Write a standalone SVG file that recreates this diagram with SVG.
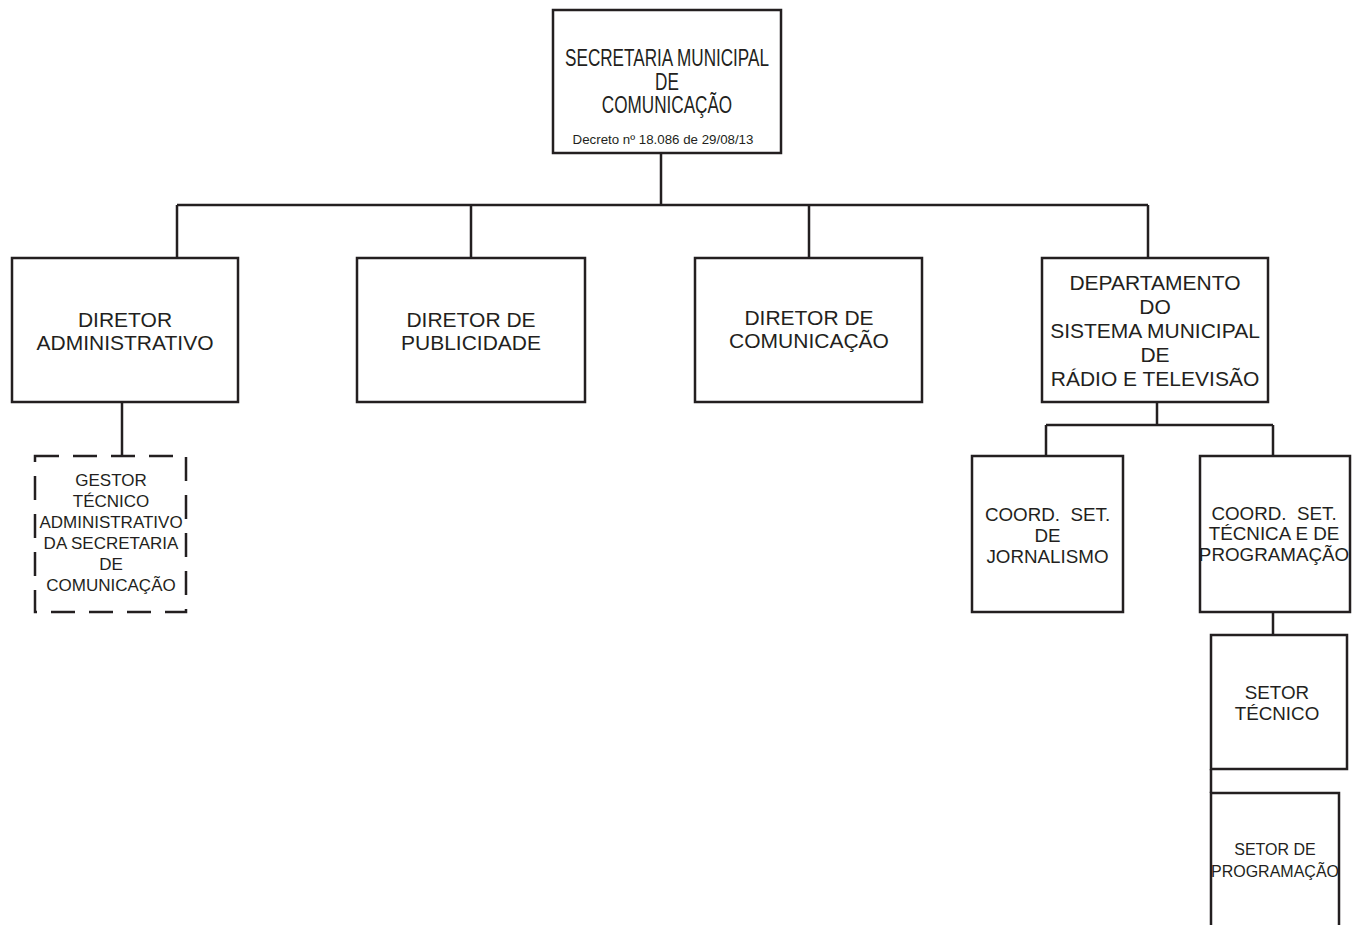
<svg xmlns="http://www.w3.org/2000/svg" width="1352" height="925" viewBox="0 0 1352 925">
<style>
.box{fill:#fff;stroke:#231f20;stroke-width:2.5}
.dash{fill:#fff;stroke:#231f20;stroke-width:2.5;stroke-dasharray:24 14}
.ln{fill:none;stroke:#231f20;stroke-width:2.5}
text{font-family:"Liberation Sans",Arial,sans-serif;fill:#231f20;text-anchor:middle}
.t21{font-size:21px}
.t19{font-size:18.8px}
.t17{font-size:17px}
</style>
<rect width="1352" height="925" fill="#fff"/>
<g id="connectors">
<path class="ln" d="M661 153V205M177 205H1148M177 205V258M471 205V258M809 205V258M1148 205V258"/>
<path class="ln" d="M122 402V456"/>
<path class="ln" d="M1157 402V425M1046 425H1273M1046 425V456M1273 425V456"/>
<path class="ln" d="M1273 612V635M1211 769V793"/>
</g>
<g id="secretaria">
<rect class="box" x="553" y="10" width="228" height="143"/>
<g transform="translate(667,0) scale(0.745,1)" style="font-size:23px">
<text x="0" y="66.5">SECRETARIA MUNICIPAL</text>
<text x="0" y="90">DE</text>
<text x="0" y="113">COMUNICAÇÃO</text>
</g>
<text x="663" y="143.5" style="font-size:13.3px">Decreto nº 18.086 de 29/08/13</text>
</g>
<g id="diretor-adm">
<rect class="box" x="12" y="258" width="226" height="144"/>
<text class="t21" x="125" y="327">DIRETOR</text>
<text class="t21" x="125" y="350">ADMINISTRATIVO</text>
</g>
<g id="diretor-pub">
<rect class="box" x="357" y="258" width="228" height="144"/>
<text class="t21" x="471" y="327">DIRETOR DE</text>
<text class="t21" x="471" y="350">PUBLICIDADE</text>
</g>
<g id="diretor-com">
<rect class="box" x="695" y="258" width="227" height="144"/>
<text class="t21" x="809" y="325">DIRETOR DE</text>
<text class="t21" x="809" y="348">COMUNICAÇÃO</text>
</g>
<g id="departamento">
<rect class="box" x="1042" y="258" width="226" height="144"/>
<text class="t21" x="1155" y="289.5">DEPARTAMENTO</text>
<text class="t21" x="1155" y="313.5">DO</text>
<text class="t21" x="1155" y="337.5">SISTEMA MUNICIPAL</text>
<text class="t21" x="1155" y="361.5">DE</text>
<text class="t21" x="1155" y="385.5">RÁDIO E TELEVISÃO</text>
</g>
<g id="gestor">
<rect class="dash" x="35" y="456" width="151" height="156"/>
<text class="t17" x="111" y="486">GESTOR</text>
<text class="t17" x="111" y="507">TÉCNICO</text>
<text class="t17" x="111" y="528">ADMINISTRATIVO</text>
<text class="t17" x="111" y="549">DA SECRETARIA</text>
<text class="t17" x="111" y="570">DE</text>
<text class="t17" x="111" y="591">COMUNICAÇÃO</text>
</g>
<g id="coord-jornalismo">
<rect class="box" x="972" y="456" width="151" height="156"/>
<text class="t19" x="1047.5" y="521" xml:space="preserve">COORD.  SET.</text>
<text class="t19" x="1047.5" y="542">DE</text>
<text class="t19" x="1047.5" y="563">JORNALISMO</text>
</g>
<g id="coord-tecnica">
<rect class="box" x="1200" y="456" width="150" height="156"/>
<text class="t19" x="1274" y="520" xml:space="preserve">COORD.  SET.</text>
<text class="t19" x="1274" y="540">TÉCNICA E DE</text>
<text class="t19" x="1274" y="561">PROGRAMAÇÃO</text>
</g>
<g id="setor-tecnico">
<rect class="box" x="1211" y="635" width="136" height="134"/>
<text class="t19" x="1277" y="699">SETOR</text>
<text class="t19" x="1277" y="720">TÉCNICO</text>
</g>
<g id="setor-programacao">
<rect class="box" x="1211" y="793" width="128" height="150"/>
<text x="1275" y="855" style="font-size:16px">SETOR DE</text>
<text x="1275" y="877" style="font-size:16px">PROGRAMAÇÃO</text>
</g>
</svg>
